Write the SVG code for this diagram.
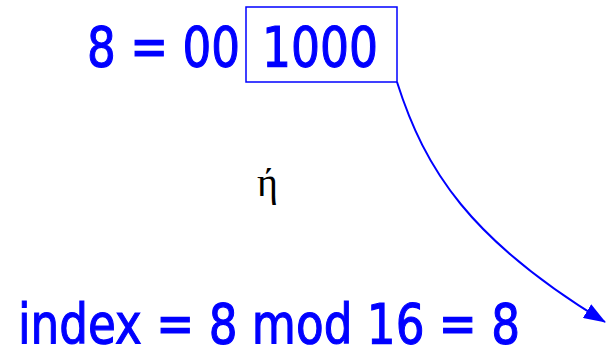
<svg xmlns="http://www.w3.org/2000/svg" width="606" height="350" viewBox="0 0 606 350">
<style>
.t{font-family:"Comic Sans MS","DejaVu Sans","Noto Sans",sans-serif;font-size:55px;fill:#0000ff;stroke:#0000ff;stroke-width:1.2px}
.g{font-family:"Liberation Serif","DejaVu Serif",serif;font-size:40px;fill:#000}
</style>
<defs>
<marker id="ah" viewBox="0 0 22 16" refX="21" refY="8" markerWidth="22" markerHeight="16" markerUnits="userSpaceOnUse" orient="auto">
<path d="M0,0 L22,8 L0,16 z" fill="#0000ff"/>
</marker>
</defs>
<rect width="606" height="350" fill="#fff"/>
<g id="binary">
<text class="t" x="87" y="66" textLength="153" lengthAdjust="spacingAndGlyphs">8 = 00</text>
<rect x="246" y="7" width="151" height="75" fill="none" stroke="#0000ff" stroke-width="1.5"/>
<text class="t" x="262" y="66" textLength="116" lengthAdjust="spacingAndGlyphs">1000</text>
</g>
<g id="eta">
<text class="g" x="257" y="196">ή</text>
</g>
<g id="index">
<text class="t" x="18" y="343" textLength="502" lengthAdjust="spacingAndGlyphs">index = 8 mod 16 = 8</text>
</g>
<g id="connectors">
<path d="M397,82 C425,170 470,240 605,322" fill="none" stroke="#0000ff" stroke-width="2" marker-end="url(#ah)"/>
</g>
</svg>
